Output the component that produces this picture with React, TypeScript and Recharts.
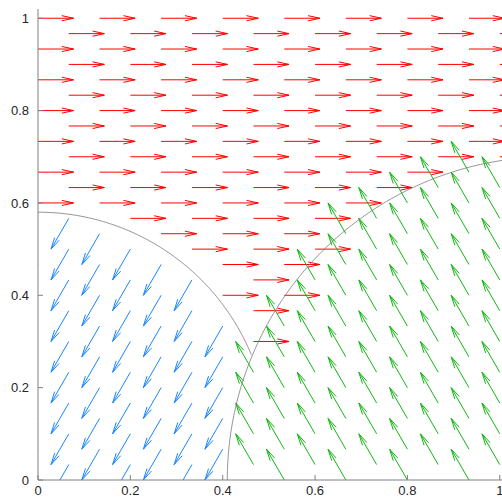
import { ComposedChart, Line, XAxis, YAxis } from "recharts";

// axis ticks, shared by both axes
const TICKS = [0, 0.2, 0.4, 0.6, 0.8, 1];

// staggered sample lattice: columns i/15, rows k/30, used where i + k is even
const COLUMN_COUNT = 15;
const ROW_COUNT = 30;

// the three zones of the field and the direction (degrees) of the flow in each
const ZONES = ["outer", "inner", "right"];
const ZONE_ANGLES = [0, 240, 120];
const ZONE_COLORS = ["#ff0000", "#1a86ff", "#12b812"];

// zone boundaries as [cx, cy, r]
const INNER_CIRCLE = [0, 0.08, 0.5];
const RIGHT_CIRCLE = [1.11, 0, 0.7];

const ARROW_LENGTH = 0.077;
const HEAD_ALPHA = 0.33;
const HEAD_BETA = 0.22;

type Pt = { x: number; y: number | null };

const inside = (c: number[], x: number, y: number) =>
  (x - c[0]) ** 2 + (y - c[1]) ** 2 < c[2] ** 2;

const zoneOf = (x: number, y: number) => {
  if (inside(RIGHT_CIRCLE, x, y)) return 2;
  if (inside(INNER_CIRCLE, x, y)) return 1;
  return 0;
};

// one polyline per zone, arrows separated by null breaks
const arrowSeries: Pt[][] = ZONES.map(() => []);
for (let i = 0; i <= COLUMN_COUNT; i++) {
  for (let k = 0; k <= ROW_COUNT; k++) {
    if ((i + k) % 2 !== 0) continue;
    const x = i / COLUMN_COUNT;
    const y = k / ROW_COUNT;
    const z = zoneOf(x, y);
    const a = (ZONE_ANGLES[z] * Math.PI) / 180;
    const u = ARROW_LENGTH * Math.cos(a);
    const v = ARROW_LENGTH * Math.sin(a);
    const tx = x + u;
    const ty = y + v;
    const lx = tx - HEAD_ALPHA * (u + HEAD_BETA * v);
    const ly = ty - HEAD_ALPHA * (v - HEAD_BETA * u);
    const rx = tx - HEAD_ALPHA * (u - HEAD_BETA * v);
    const ry = ty - HEAD_ALPHA * (v + HEAD_BETA * u);
    arrowSeries[z].push(
      { x, y },
      { x: tx, y: ty },
      { x: tx, y: null },
      { x: lx, y: ly },
      { x: tx, y: ty },
      { x: rx, y: ry },
      { x: rx, y: null }
    );
  }
}

// boundary curves: the inner circle only where it is outside the right one
const arcPoints = (c: number[], from: number, to: number, keep: (x: number, y: number) => boolean) => {
  const pts: Pt[] = [];
  const step = from < to ? 0.5 : -0.5;
  for (let d = from; step > 0 ? d <= to : d >= to; d += step) {
    const t = (d * Math.PI) / 180;
    const x = c[0] + c[2] * Math.cos(t);
    const y = c[1] + c[2] * Math.sin(t);
    if (keep(x, y)) pts.push({ x, y });
  }
  return pts;
};
const innerArc = arcPoints(INNER_CIRCLE, 90, -20, (x, y) => !inside(RIGHT_CIRCLE, x, y));
const rightArc = arcPoints(RIGHT_CIRCLE, 180, 60, () => true);

const DOMAIN: [number, number] = [0, 1.02];
const FONT = "'Liberation Sans', Arial, sans-serif";
const AXIS_COLOR = "#808080";
const blank = () => "";

const XTick = (props: any) => (
  <text x={props.x} y={props.y} dy="0.71em" textAnchor="middle" fontSize={13} fontFamily={FONT} fill="#262626">
    {String(props.payload.value)}
  </text>
);

const YTick = (props: any) => (
  <text x={props.x} y={props.y} dy="0.355em" textAnchor="end" fontSize={13} fontFamily={FONT} fill="#262626">
    {String(props.payload.value)}
  </text>
);

export default function App() {
  return (
    <div
      style={{
        position: "fixed",
        left: 0,
        top: 0,
        width: 502,
        height: 497,
        overflow: "hidden",
        background: "#fff",
      }}
    >
      <ComposedChart width={509} height={497} margin={{ top: 9, right: 0, bottom: 0, left: 0 }}>
        <XAxis
          type="number"
          dataKey="x"
          domain={DOMAIN}
          ticks={TICKS}
          allowDataOverflow
          height={17}
          stroke={AXIS_COLOR}
          tickSize={-5}
          tickMargin={11}
          tick={<XTick />}
        />
        <XAxis
          xAxisId="top"
          orientation="top"
          type="number"
          dataKey="x"
          domain={DOMAIN}
          ticks={TICKS}
          allowDataOverflow
          height={0}
          stroke={AXIS_COLOR}
          tickSize={-5}
          tickFormatter={blank}
        />
        <YAxis
          type="number"
          domain={DOMAIN}
          ticks={TICKS}
          allowDataOverflow
          width={38}
          stroke={AXIS_COLOR}
          tickSize={-5}
          tickMargin={14}
          tick={<YTick />}
        />
        <YAxis
          yAxisId="right"
          orientation="right"
          type="number"
          domain={DOMAIN}
          ticks={TICKS}
          allowDataOverflow
          width={0}
          stroke={AXIS_COLOR}
          tickSize={-5}
          tickFormatter={blank}
        />
        {ZONES.map((name, z) => (
          <Line
            key={name}
            data={arrowSeries[z]}
            dataKey="y"
            stroke={ZONE_COLORS[z]}
            strokeWidth={1}
            dot={false}
            activeDot={false}
            connectNulls={false}
            isAnimationActive={false}
          />
        ))}
        <Line
          data={innerArc}
          dataKey="y"
          stroke="#7a7a7a"
          strokeWidth={0.8}
          dot={false}
          activeDot={false}
          isAnimationActive={false}
        />
        <Line
          data={rightArc}
          dataKey="y"
          stroke="#7a7a7a"
          strokeWidth={0.8}
          dot={false}
          activeDot={false}
          isAnimationActive={false}
        />
      </ComposedChart>
    </div>
  );
}
